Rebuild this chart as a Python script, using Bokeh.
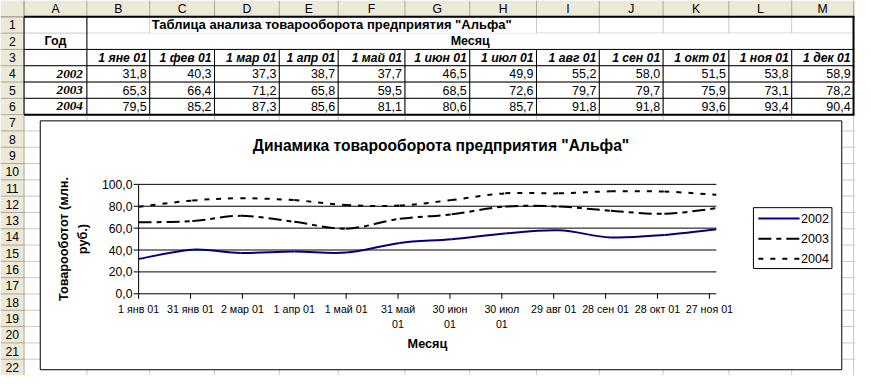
import numpy as np
from bokeh.plotting import figure
from bokeh.models import Range1d, ColumnDataSource
from bokeh.core.properties import value
from bokeh.embed import file_html
from bokeh.resources import INLINE

# ---------------- data ----------------
col_letters = ["A", "B", "C", "D", "E", "F", "G", "H", "I", "J", "K", "L", "M"]
sheet_title = 'Таблица анализа товарооборота предприятия "Альфа"'
year_header = "Год"
month_header = "Месяц"
month_labels = ["1 яне 01", "1 фев 01", "1 мар 01", "1 апр 01", "1 май 01", "1 июн 01",
                "1 июл 01", "1 авг 01", "1 сен 01", "1 окт 01", "1 ноя 01", "1 дек 01"]
month_dates = ["2001-01-01", "2001-02-01", "2001-03-01", "2001-04-01", "2001-05-01", "2001-06-01",
               "2001-07-01", "2001-08-01", "2001-09-01", "2001-10-01", "2001-11-01", "2001-12-01"]
years = ["2002", "2003", "2004"]
sales_2002 = [31.8, 40.3, 37.3, 38.7, 37.7, 46.5, 49.9, 55.2, 58.0, 51.5, 53.8, 58.9]
sales_2003 = [65.3, 66.4, 71.2, 65.8, 59.5, 68.5, 72.6, 79.7, 79.7, 75.9, 73.1, 78.2]
sales_2004 = [79.5, 85.2, 87.3, 85.6, 81.1, 80.6, 85.7, 91.8, 91.8, 93.6, 93.4, 90.4]
chart_title = 'Динамика товарооборота предприятия "Альфа"'
y_title = "Товарооботот (млн.\nруб.)"
x_title = "Месяц"
y_ticks = [0, 20, 40, 60, 80, 100]
y_tick_labels = ["0,0", "20,0", "40,0", "60,0", "80,0", "100,0"]
x_tick_dates = ["2001-01-01", "2001-01-31", "2001-03-02", "2001-04-01", "2001-05-01", "2001-05-31",
                "2001-06-30", "2001-07-30", "2001-08-29", "2001-09-28", "2001-10-28", "2001-11-27"]
x_tick_labels = ["1 янв 01", "31 янв 01", "2 мар 01", "1 апр 01", "1 май 01", "31 май\n01",
                 "30 июн\n01", "30 июл\n01", "29 авг 01", "28 сен 01", "28 окт 01", "27 ноя 01"]

series = [sales_2002, sales_2003, sales_2004]

# ---------------- layout / style ----------------
W, H = 871, 391
COL_X = [24, 88, 152, 218, 284, 344, 412, 478, 546, 610, 675, 742, 806, 869]
ROW_H = 17
N_ROWS = 22
HDR_BG = "#ECE9D8"
HDR_LINE = "#ACA899"
GRID = "#C8C8C8"
SANS = value("Liberation Sans")
SERIF = value("Liberation Serif")
K = 0.975


def fs(n):
    return f"{n * K:.1f}px"


def Y(py):
    return H - py


def row_c(n):
    return Y(ROW_H * n + ROW_H / 2)


def row_b(n):  # bottom edge of row n (pixel from top)
    return ROW_H * (n + 1)


p = figure(width=855, height=375, x_range=Range1d(0, W), y_range=Range1d(0, H),
           x_axis_type=None, y_axis_type=None, toolbar_location=None,
           output_backend="svg", min_border=0, outline_line_color=None,
           background_fill_color="white", border_fill_color="white")

# header bands
p.quad(left=[0, 0], right=[W, COL_X[0]], top=[Y(0), Y(ROW_H)], bottom=[Y(ROW_H), Y(H)],
       fill_color=HDR_BG, line_color=None)

# sheet gridlines
hy = [Y(row_b(n)) for n in range(1, N_ROWS + 1)]
p.segment(x0=COL_X[0], x1=W, y0=hy, y1=hy, line_color=GRID, line_width=1)
p.segment(x0=COL_X[1:], x1=COL_X[1:], y0=Y(ROW_H), y1=Y(H), line_color=GRID, line_width=1)
# covers: overflow text of row 1, merged B2:M2
p.quad(left=[COL_X[2] + 1, COL_X[1] + 1], right=[COL_X[8] - 1, COL_X[13] - 1],
       top=[Y(row_b(0) + 0.5), Y(row_b(1) + 0.5)], bottom=[Y(row_b(1) - 0.5), Y(row_b(2) - 0.5)],
       fill_color="white", line_color=None)

# header separators
p.segment(x0=COL_X, x1=COL_X, y0=Y(0), y1=Y(ROW_H), line_color=HDR_LINE)
rb = [Y(row_b(n)) for n in range(0, N_ROWS + 1)]
p.segment(x0=0, x1=COL_X[0], y0=rb, y1=rb, line_color=HDR_LINE)
p.segment(x0=0, x1=W, y0=Y(ROW_H), y1=Y(ROW_H), line_color=HDR_LINE)
p.segment(x0=COL_X[0], x1=COL_X[0], y0=Y(0), y1=Y(H), line_color=HDR_LINE)

# table borders
t_top, t_bot = row_b(1) - ROW_H, row_b(6)
p.segment(x0=[COL_X[0], COL_X[1]], x1=[COL_X[0], COL_X[1]], y0=Y(t_top), y1=Y(t_bot), line_color="black")
p.segment(x0=COL_X[2:-1], x1=COL_X[2:-1], y0=Y(row_b(2)), y1=Y(t_bot), line_color="black")
ib = [Y(row_b(n)) for n in (2, 3, 4, 5)]
p.segment(x0=COL_X[0], x1=COL_X[-1], y0=ib, y1=ib, line_color="black")
p.segment(x0=COL_X[0], x1=COL_X[-1] + 1, y0=[Y(t_top), Y(t_bot)], y1=[Y(t_top), Y(t_bot)],
          line_color="black", line_width=2)
p.segment(x0=COL_X[-1], x1=COL_X[-1], y0=Y(t_top), y1=Y(t_bot), line_color="black", line_width=2)

# header texts
cx = [(COL_X[i] + COL_X[i + 1]) / 2 for i in range(len(col_letters))]
p.text(x=cx, y=Y(ROW_H / 2), text=col_letters, text_font=SANS, text_font_size=fs(12.5),
       text_align="center", text_baseline="middle", text_color="black")
p.text(x=COL_X[0] / 2, y=[row_c(n) for n in range(1, N_ROWS + 1)],
       text=[str(n) for n in range(1, N_ROWS + 1)], text_font=SANS, text_font_size=fs(12.5),
       text_align="center", text_baseline="middle", text_color="black")

# cell texts
p.text(x=[COL_X[2] + 2], y=[row_c(1)], text=[sheet_title], text_font=SANS, text_font_size=fs(13.3),
       text_font_style="bold", text_align="left", text_baseline="middle")
p.text(x=[cx[0], (COL_X[1] + COL_X[-1]) / 2], y=[row_c(2), row_c(2)], text=[year_header, month_header],
       text_font=SANS, text_font_size=fs(12.8), text_font_style="bold",
       text_align="center", text_baseline="middle")
p.text(x=[x - 3 for x in COL_X[2:]], y=row_c(3), text=month_labels, text_font=SANS,
       text_font_size=fs(12.5), text_font_style="bold italic", text_align="right", text_baseline="middle")
p.text(x=COL_X[1] - 4, y=[row_c(4 + i) for i in range(3)], text=years, text_font=SERIF,
       text_font_size=fs(13.5), text_font_style="bold italic", text_align="right", text_baseline="middle")
vx, vy, vt = [], [], []
for i, vals in enumerate(series):
    for j, v in enumerate(vals):
        vx.append(COL_X[j + 2] - 3)
        vy.append(row_c(4 + i))
        vt.append(f"{v:.1f}".replace(".", ","))
p.text(x=vx, y=vy, text=vt, text_font=SANS, text_font_size=fs(12.8),
       text_align="right", text_baseline="middle")

# ---------------- chart ----------------
CH_L, CH_R, CH_T, CH_B = 40.5, 857, 125.5, 385
PL, PR, PT, PB = 140.7, 729.2, 191.7, 305.8
p.quad(left=CH_L, right=CH_R, top=Y(CH_T), bottom=Y(CH_B), fill_color="white", line_color="black", line_width=1)


def ms(strs):
    return np.array(strs, dtype="datetime64[ms]").astype("int64").astype(float)


mx = ms(month_dates)
tx = ms(x_tick_dates)

plot = p.subplot(x_source=Range1d(mx[0], mx[-1]), y_source=Range1d(0, 100),
                 x_target=Range1d(PL, PR), y_target=Range1d(Y(PB), Y(PT)))

plot.segment(x0=mx[0], x1=mx[-1], y0=y_ticks, y1=y_ticks, line_color="black", line_width=1)
plot.segment(x0=[mx[0]], x1=[mx[0]], y0=[0], y1=[100], line_color="black", line_width=1)
plot.ray(x=mx[0], y=y_ticks, length=5, length_units="screen", angle=np.pi, line_color="black", line_width=1)
plot.ray(x=tx, y=0, length=5, length_units="screen", angle=-np.pi / 2, line_color="black", line_width=1)

colors = ["#000080", "black", "black"]
dashes = ["solid", "13 5 5 5", "5 7"]


def bezier_parts(x, y):
    x = np.asarray(x, float)
    y = np.asarray(y, float)
    n = len(x)
    xp = np.concatenate([[x[0]], x, [x[-1]]])
    yp = np.concatenate([[y[0]], y, [y[-1]]])
    return dict(
        x0=x[:-1], y0=y[:-1], x1=x[1:], y1=y[1:],
        cx0=xp[1:n] + (xp[2:n + 1] - xp[0:n - 1]) / 6,
        cy0=yp[1:n] + (yp[2:n + 1] - yp[0:n - 1]) / 6,
        cx1=xp[2:n + 1] - (xp[3:n + 2] - xp[1:n]) / 6,
        cy1=yp[2:n + 1] - (yp[3:n + 2] - yp[1:n]) / 6,
    )


for vals, c, d in zip(series, colors, dashes):
    src = ColumnDataSource(bezier_parts(mx, vals))
    plot.bezier(x0="x0", y0="y0", x1="x1", y1="y1", cx0="cx0", cy0="cy0", cx1="cx1", cy1="cy1",
                source=src, line_color=c, line_width=2, line_dash=d)

# axis tick labels
ylab = p.subplot(x_source=Range1d(0, W), x_target=Range1d(0, W),
                 y_source=Range1d(0, 100), y_target=Range1d(Y(PB), Y(PT)))
ylab.text(x=134.5, y=y_ticks, text=y_tick_labels, text_font=SANS, text_font_size=fs(12.5),
          text_align="right", text_baseline="middle")
xlab = p.subplot(x_source=Range1d(mx[0], mx[-1]), x_target=Range1d(PL, PR),
                 y_source=Range1d(0, H), y_target=Range1d(0, H))
xlab.text(x=tx, y=Y(315), text=x_tick_labels, text_font=SANS, text_font_size=fs(11),
          text_align="center", text_baseline="top", text_line_height=1.3)

# titles
p.text(x=[(CH_L + CH_R) / 2], y=[Y(151.5)], text=[chart_title], text_font=SANS, text_font_size=fs(16),
       text_font_style="bold", text_align="center", text_baseline="middle")
p.text(x=[(PL + PR) / 2], y=[Y(358)], text=[x_title], text_font=SANS, text_font_size=fs(13),
       text_font_style="bold", text_align="center", text_baseline="middle")
p.text(x=[74], y=[Y((PT + PB) / 2)], text=[y_title], text_font=SANS, text_font_size=fs(13),
       text_font_style="bold", text_align="center", text_baseline="middle", angle=np.pi / 2,
       text_line_height=1.35)

# legend
LG_L, LG_R, LG_T, LG_B = 767, 847, 216, 279.5
p.quad(left=LG_L, right=LG_R, top=Y(LG_T), bottom=Y(LG_B), fill_color="white", line_color="black")
for i, (name, c, d) in enumerate(zip(years, colors, dashes)):
    ly = Y(227.3 + 21 * i)
    p.segment(x0=[772], x1=[814], y0=[ly], y1=[ly], line_color=c, line_width=2, line_dash=d)
    p.text(x=[815.5], y=[ly], text=[name], text_font=SANS, text_font_size=fs(12.8),
           text_align="left", text_baseline="middle")

open("out.html", "w").write(file_html(p, INLINE))
